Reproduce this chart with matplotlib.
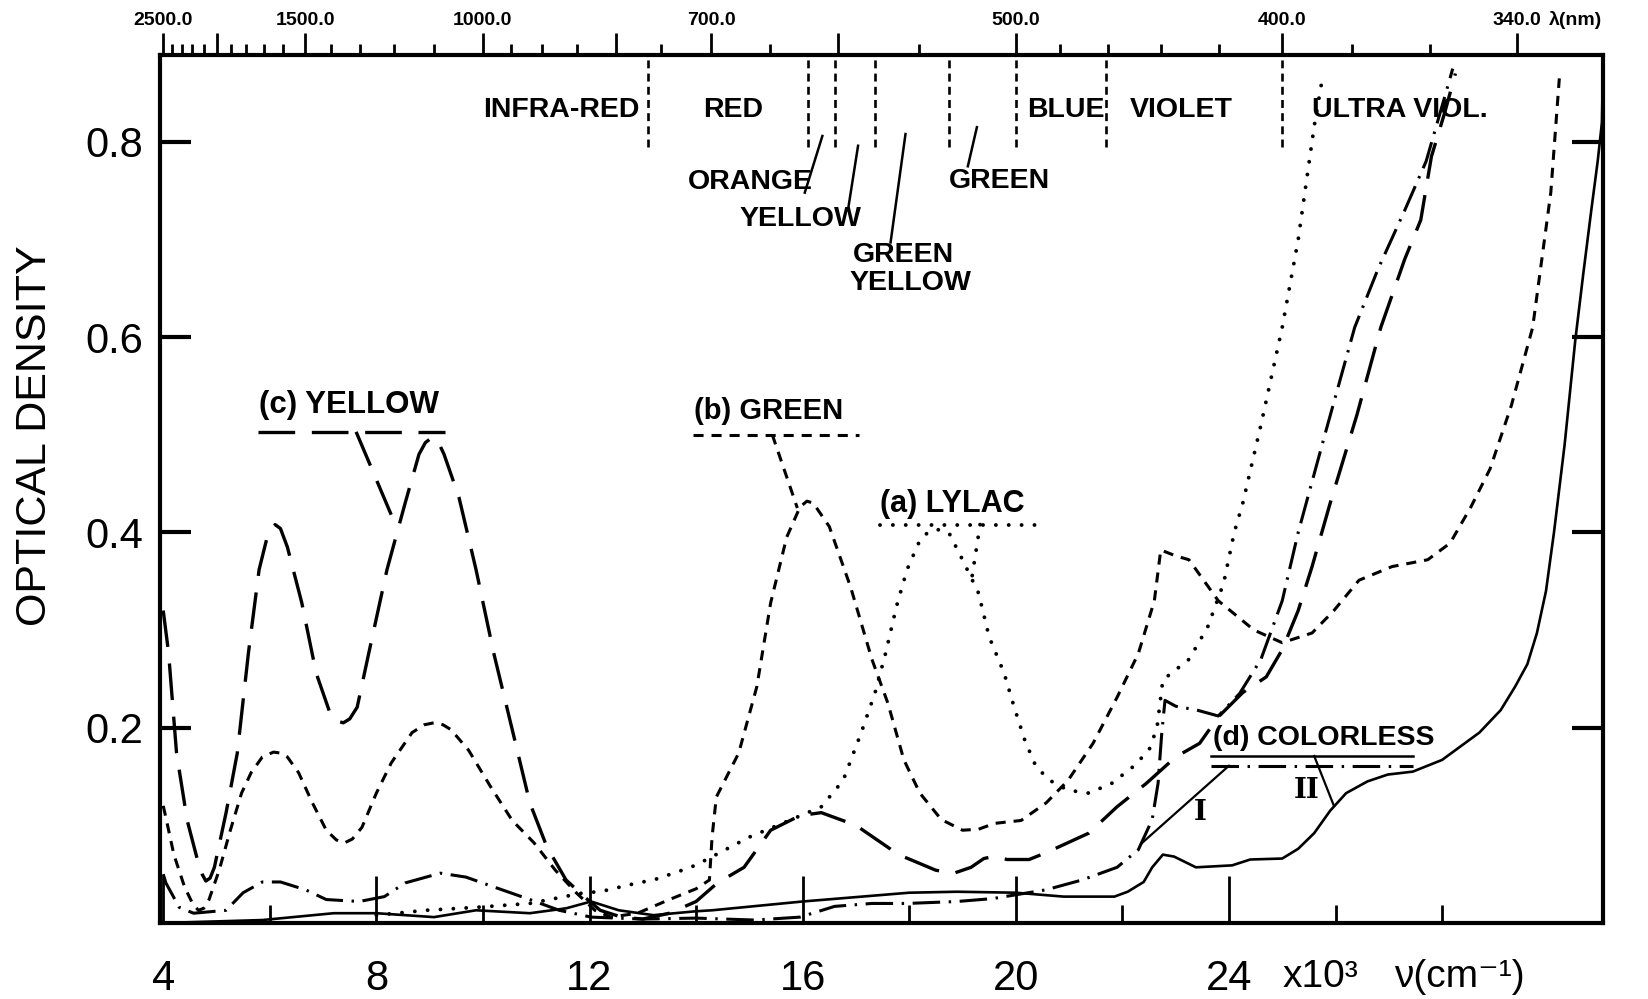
import numpy as np
import matplotlib
matplotlib.use("Agg")
import matplotlib.pyplot as plt
import matplotlib.transforms as mtransforms

plt.rcParams['font.family'] = ['Liberation Sans Narrow', 'Liberation Sans', 'DejaVu Sans']

# wavenumber in 10^3 cm^-1, optical density
# (a) lylac, dotted
nu_a = [8.0, 8.93, 9.87, 10.88, 11.9, 12.2, 12.9, 13.2, 13.9, 14.2, 15.0, 15.75, 16.35, 16.76,
        17.1, 17.36, 17.56, 17.76, 17.96, 18.2, 18.35, 18.5, 18.65, 18.76, 19.0, 19.3, 19.5,
        19.78, 19.97, 20.17, 20.38, 20.64, 20.98, 21.37, 21.8, 22.2, 22.5, 22.65, 22.76, 23.25,
        23.6, 23.9, 24.1, 24.26, 24.6, 25.0, 25.3, 25.6, 25.75]
od_a = [0.008, 0.013, 0.016, 0.02, 0.031, 0.032, 0.041, 0.044, 0.057, 0.065, 0.088, 0.105, 0.119,
        0.146, 0.195, 0.236, 0.277, 0.324, 0.362, 0.392, 0.4, 0.403, 0.402, 0.398, 0.372, 0.338,
        0.293, 0.256, 0.221, 0.187, 0.16, 0.146, 0.136, 0.133, 0.143, 0.16, 0.177, 0.2, 0.249,
        0.27, 0.303, 0.348, 0.40, 0.43, 0.51, 0.61, 0.70, 0.816, 0.864]

# (b) green, short dashes
nu_b = [4.0, 4.05, 4.2, 4.4, 4.55, 4.66, 4.76, 4.86, 5.05, 5.26, 5.47, 5.65, 5.86, 6.07, 6.2,
        6.33, 6.54, 6.8, 7.06, 7.25, 7.4, 7.55, 7.73, 8.0, 8.28, 8.67, 8.9, 9.08, 9.25, 9.4,
        9.73, 10.15, 10.55, 10.96, 11.36, 11.75, 12.1, 12.4, 12.9, 13.5, 14.0, 14.25, 14.3,
        14.38, 14.8, 15.14, 15.4, 15.7, 15.95, 16.08, 16.2, 16.5, 16.9, 17.3, 17.6, 17.9, 18.2,
        18.6, 19.0, 19.3, 19.6, 20.1, 20.57, 20.98, 21.45, 21.9, 22.3, 22.6, 22.72, 23.0,
        23.25, 23.8, 24.47, 25.0, 25.56, 25.97, 26.44, 27.06, 27.73, 28.15, 28.54, 28.9, 29.3,
        29.7, 30.04, 30.2]
od_b = [0.12, 0.108, 0.07, 0.037, 0.02, 0.013, 0.015, 0.024, 0.054, 0.095, 0.133, 0.154, 0.17,
        0.175, 0.174, 0.17, 0.154, 0.123, 0.095, 0.085, 0.082, 0.086, 0.098, 0.133, 0.164,
        0.195, 0.203, 0.205, 0.203, 0.198, 0.177, 0.139, 0.105, 0.082, 0.054, 0.031, 0.013,
        0.006, 0.01, 0.024, 0.035, 0.044, 0.088, 0.129, 0.174, 0.242, 0.328, 0.395, 0.426,
        0.432, 0.43, 0.406, 0.344, 0.27, 0.225, 0.167, 0.133, 0.106, 0.095, 0.096, 0.102, 0.105,
        0.123, 0.146, 0.184, 0.231, 0.276, 0.33, 0.382, 0.376, 0.372, 0.33, 0.30, 0.287, 0.297,
        0.32, 0.351, 0.365, 0.372, 0.389, 0.426, 0.465, 0.53, 0.61, 0.748, 0.865]

# (c) yellow, long dashes
nu_c = [4.0, 4.1, 4.25, 4.45, 4.66, 4.73, 4.8, 4.88, 4.96, 5.18, 5.39, 5.6, 5.8, 5.95, 6.1,
        6.2, 6.33, 6.6, 6.87, 7.13, 7.25, 7.38, 7.5, 7.64, 7.86, 8.2, 8.54, 8.8, 8.92, 9.04,
        9.15, 9.27, 9.55, 9.87, 10.2, 10.55, 10.88, 11.2, 11.56, 11.9, 12.2, 12.6, 13.0, 13.5,
        14.0, 14.4, 14.9, 15.4, 15.95, 16.35, 17.0, 17.8, 18.5, 18.84, 19.16, 19.4, 19.57,
        19.84, 20.25, 20.57, 21.37, 21.9, 22.45, 23.0, 23.45, 23.8, 24.26, 24.7, 25.0, 25.3,
        25.56, 25.9, 26.4, 26.85, 27.3, 27.6, 27.8, 28.05, 28.25]
od_c = [0.32, 0.277, 0.174, 0.105, 0.061, 0.05, 0.043, 0.046, 0.057, 0.113, 0.174, 0.277,
        0.362, 0.395, 0.408, 0.404, 0.385, 0.328, 0.256, 0.215, 0.207, 0.205, 0.209, 0.221,
        0.277, 0.362, 0.43, 0.48, 0.492, 0.497, 0.494, 0.48, 0.436, 0.362, 0.277, 0.198, 0.123,
        0.078, 0.044, 0.027, 0.013, 0.006, 0.004, 0.01, 0.022, 0.041, 0.057, 0.095, 0.11,
        0.113, 0.1, 0.07, 0.054, 0.051, 0.057, 0.066, 0.068, 0.065, 0.065, 0.072, 0.092, 0.119,
        0.143, 0.17, 0.184, 0.211, 0.236, 0.252, 0.28, 0.32, 0.365, 0.43, 0.52, 0.61, 0.68,
        0.72, 0.785, 0.83, 0.87]

# (d) colorless I, dash-dot
nu_d1 = [4.0, 4.05, 4.3, 4.57, 5.18, 5.5, 5.86, 6.2, 6.67, 7.06, 7.68, 8.15, 8.54, 9.2, 9.68,
         10.2, 10.88, 11.43, 12.03, 13.0, 14.0, 15.1, 15.95, 16.6, 17.3, 17.96, 18.9, 19.57,
         20.57, 21.24, 21.9, 22.3, 22.56, 22.67, 22.74, 22.8, 23.0, 23.4, 23.8, 24.2, 24.6,
         25.0, 25.3, 25.8, 26.36, 26.8, 27.3, 27.7, 28.07, 28.2]
od_d1 = [0.05, 0.041, 0.016, 0.01, 0.013, 0.031, 0.042, 0.042, 0.034, 0.024, 0.022, 0.027,
         0.041, 0.051, 0.047, 0.037, 0.024, 0.013, 0.006, 0.004, 0.005, 0.003, 0.006, 0.017,
         0.02, 0.02, 0.022, 0.025, 0.034, 0.044, 0.057, 0.075, 0.106, 0.143, 0.195, 0.228,
         0.222, 0.218, 0.212, 0.235, 0.27, 0.33, 0.40, 0.50, 0.61, 0.67, 0.73, 0.78, 0.85, 0.875]

# (d) colorless II, solid
nu_d2 = [4.0, 5.86, 7.2, 8.0, 9.08, 9.87, 10.88, 11.56, 12.03, 12.55, 13.2, 14.0, 14.3, 16.0,
         18.0, 18.9, 20.0, 20.9, 21.85, 22.1, 22.4, 22.56, 22.76, 22.97, 23.38, 24.06, 24.4,
         25.0, 25.3, 25.6, 25.9, 26.2, 26.6, 26.98, 27.45, 28.0, 28.7, 29.1, 29.37, 29.6, 29.78,
         29.95, 30.1, 30.3, 30.5, 30.65, 30.8, 30.92, 31.0, 31.02]
od_d2 = [0.0, 0.003, 0.01, 0.01, 0.006, 0.013, 0.01, 0.015, 0.022, 0.013, 0.008, 0.012, 0.013,
         0.022, 0.031, 0.032, 0.031, 0.027, 0.027, 0.032, 0.042, 0.057, 0.07, 0.068, 0.057,
         0.059, 0.065, 0.066, 0.076, 0.092, 0.115, 0.133, 0.145, 0.152, 0.155, 0.167, 0.195,
         0.218, 0.242, 0.265, 0.297, 0.34, 0.40, 0.49, 0.597, 0.665, 0.73, 0.78, 0.82, 0.88]

# spectral region boundaries, 10^3 cm^-1
region_edges = [13.1, 16.1, 16.6, 17.35, 18.75, 20.0, 21.7, 25.0]

# wavelength axis (nm)
lam_labeled = [2500, 1500, 1000, 700, 500, 400, 340]
lam_major = [2000, 800, 600]
lam_minor = [2400, 2300, 2200, 2100, 1900, 1800, 1700, 1600, 1400, 1300, 1200, 1100,
             950, 900, 850, 750, 650, 550, 480, 460, 440, 420, 380, 360]

nu_ticks = [4, 8, 12, 16, 20, 24]
nu_minor = [6, 10, 14, 18, 22, 26, 28]
od_ticks = [0.2, 0.4, 0.6, 0.8]

fig = plt.figure(figsize=(16.48, 9.99), dpi=100)
ax = fig.add_axes([0.0971, 0.0761, 0.8756, 0.8689])
ax.set_xlim(3.94, 31.02)
ax.set_ylim(0, 0.889)

sty_a = dict(color='k', lw=2.8, dashes=(0.01, 3.3), dash_capstyle='round')
sty_b = dict(color='k', lw=2.2, dashes=(3.3, 2.6))
sty_c = dict(color='k', lw=2.4, dashes=(11, 5))
sty_d1 = dict(color='k', lw=2.2, dashes=(9, 2.8, 0.8, 2.8))
sty_d2 = dict(color='k', lw=1.9)

ax.plot(nu_a, od_a, **sty_a)
ax.plot(nu_b, od_b, **sty_b)
ax.plot(nu_c, od_c, **sty_c)
ax.plot(nu_d1, od_d1, **sty_d1)
ax.plot(nu_d2, od_d2, **sty_d2)

# legend labels with underlines and leaders
ax.text(5.8, 0.515, '(c) YELLOW', fontsize=22.5, fontweight='bold', va='bottom')
ax.plot([5.77, 9.28], [0.503, 0.503], **sty_c)
ax.plot([7.62, 8.38], [0.503, 0.405], **sty_c)

ax.text(13.97, 0.51, '(b) GREEN', fontsize=21, fontweight='bold', va='bottom')
ax.plot([13.95, 17.06], [0.5, 0.5], **sty_b)
ax.plot([15.43, 15.9], [0.5, 0.425], **sty_b)

ax.text(17.45, 0.414, '(a) LYLAC', fontsize=22, fontweight='bold', va='bottom')
ax.plot([17.45, 20.4], [0.408, 0.408], **sty_a)
ax.plot([19.33, 19.18], [0.408, 0.355], **sty_a)

ax.text(23.7, 0.176, '(d) COLORLESS', fontsize=20.5, fontweight='bold', va='bottom')
ax.plot([23.67, 27.45], [0.171, 0.171], color='k', lw=1.8)
ax.plot([23.67, 27.45], [0.161, 0.161], **sty_d1)
ax.plot([24.0, 22.37], [0.161, 0.082], color='k', lw=1.6)
ax.plot([25.6, 25.97], [0.171, 0.12], color='k', lw=1.6)
ax.text(23.46, 0.113, 'I', fontsize=20, fontweight='bold', family='DejaVu Serif',
        ha='center', va='center')
ax.text(25.45, 0.136, 'II', fontsize=20, fontweight='bold', family='DejaVu Serif',
        ha='center', va='center')

# spectral regions
for e in region_edges:
    ax.plot([e, e], [0.795, 0.889], color='k', lw=1.9, dashes=(3, 2), clip_on=False)

reg_kw = dict(fontsize=20.5, fontweight='bold', ha='center', va='center')
ax.text(12.93, 0.833, 'INFRA-RED', fontsize=20.5, fontweight='bold', ha='right', va='center')
ax.text(14.7, 0.833, 'RED', **reg_kw)
ax.text(20.94, 0.833, 'BLUE', **reg_kw)
ax.text(23.1, 0.833, 'VIOLET', **reg_kw)
ax.text(27.2, 0.833, 'ULTRA VIOL.', **reg_kw)
ax.text(15.02, 0.759, 'ORANGE', **reg_kw)
ax.text(15.95, 0.721, 'YELLOW', **reg_kw)
ax.text(17.9, 0.684, 'GREEN', **reg_kw)
ax.text(18.03, 0.655, 'YELLOW', **reg_kw)
ax.text(19.7, 0.760, 'GREEN', **reg_kw)
for (x0, y0, x1, y1) in [(16.04, 0.748, 16.37, 0.806), (16.85, 0.73, 17.04, 0.796),
                         (17.65, 0.697, 17.93, 0.808), (19.1, 0.775, 19.27, 0.815)]:
    ax.plot([x0, x1], [y0, y1], color='k', lw=1.8)

# axes styling
for s in ax.spines.values():
    s.set_linewidth(3)
ax.set_xticks(nu_ticks)
ax.set_xticklabels([str(t) for t in nu_ticks])
ax.set_xticks(nu_minor, minor=True)
ax.tick_params(axis='x', which='major', direction='in', length=34, width=2, pad=26,
               labelsize=30, top=False)
ax.tick_params(axis='x', which='minor', direction='in', length=13, width=2, top=False)
ax.set_yticks(od_ticks)
ax.set_yticklabels(['%.1f' % t for t in od_ticks])
ax.tick_params(axis='y', which='major', direction='in', length=22, width=3, pad=12,
               labelsize=30, left=True, right=True)

trans = mtransforms.blended_transform_factory(ax.transData, ax.transAxes)
ax.text(25.0, -0.062, 'x10\u00b3', fontsize=28, transform=trans, va='center', ha='left')
ax.text(27.1, -0.062, '\u03bd(cm\u207b\u00b9)', fontsize=28, transform=trans, va='center',
        ha='left')

fig.text(0.021, 0.5636, 'OPTICAL DENSITY', rotation=90, fontsize=31, ha='center', va='center')

# wavelength axis on top
ax2 = ax.twiny()
ax2.set_xlim(ax.get_xlim())
for s in ax2.spines.values():
    s.set_visible(False)
ax2.set_xticks([1e4 / l for l in lam_labeled + lam_major])
ax2.set_xticklabels(['%.1f' % l for l in lam_labeled] + [''] * len(lam_major))
ax2.set_xticks([1e4 / l for l in lam_minor], minor=True)
ax2.tick_params(axis='x', which='major', direction='out', length=16, width=2, pad=3,
                labelsize=14)
ax2.tick_params(axis='x', which='minor', direction='out', length=8, width=2)
for lab in ax2.get_xticklabels():
    lab.set_fontweight('bold')
ax.text(30.0, 1.04, '\u03bb(nm)', fontsize=14, fontweight='bold', transform=trans,
        va='center', ha='left')

fig.savefig('out.png', dpi=100, facecolor='white')
